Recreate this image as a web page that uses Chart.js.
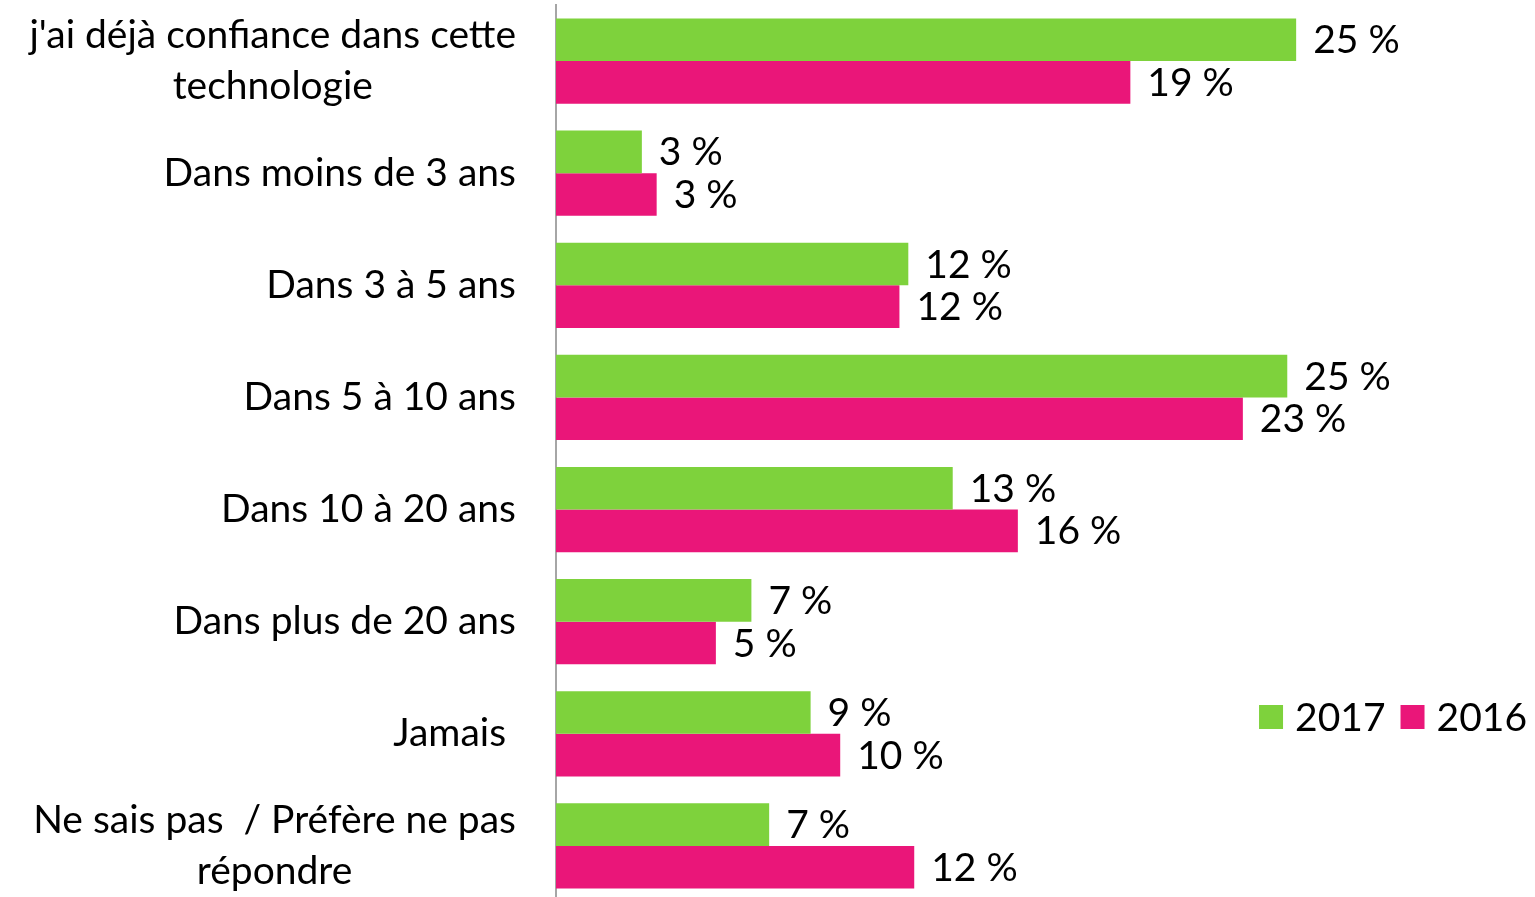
<!DOCTYPE html>
<html>
<head>
<meta charset="utf-8">
<title>Confiance dans cette technologie</title>
<script src="https://cdn.jsdelivr.net/npm/chart.js@4.4.1/dist/chart.umd.min.js"></script>
<style>
  html, body { margin: 0; padding: 0; background: #fff; overflow: hidden; }
  #wrap { position: relative; width: 1535px; height: 902px; }
</style>
</head>
<body>
<div id="wrap"><canvas id="chart-bar" width="1535" height="902"></canvas></div>
<script>
/* =====================
  Data
===================== */
var categories = [
  ["j'ai déjà confiance dans cette", "technologie"],
  "Dans moins de 3 ans",
  "Dans 3 à 5 ans",
  "Dans 5 à 10 ans",
  "Dans 10 à 20 ans",
  "Dans plus de 20 ans",
  "Jamais ",
  ["Ne sais pas  / Préfère ne pas", "répondre"]
];
var seriesNames = ['2017', '2016'];
var values2017 = [25.0, 2.9, 11.9, 24.7, 13.4, 6.6, 8.6, 7.2];
var values2016 = [19.4, 3.4, 11.6, 23.2, 15.6, 5.4, 9.6, 12.1];
var colors = ['#7ed23c', '#ea1679'];

var fontFamily = 'Lato, "Open Sans", sans-serif';
var fontSize = 39;
var font = fontSize + 'px ' + fontFamily;

// y labels (right-aligned block, lines centred), value labels and legend
var textPlugin = {
  id: 'textPlugin',
  afterDraw: function(chart) {
    var ctx = chart.ctx;
    var yScale = chart.scales.y;
    var area = chart.chartArea;
    ctx.save();
    ctx.font = font;
    ctx.fillStyle = '#000';
    ctx.textBaseline = 'middle';

    // category labels
    var rightEdge = area.left - 40;
    var lineHeight = 51;
    categories.forEach(function(cat, i) {
      var lines = Array.isArray(cat) ? cat : [cat];
      var widest = 0;
      lines.forEach(function(l) { widest = Math.max(widest, ctx.measureText(l).width); });
      var cx = rightEdge - widest / 2;
      var y0 = yScale.getPixelForTick(i) - (lines.length - 1) * lineHeight / 2;
      ctx.textAlign = 'center';
      lines.forEach(function(l, k) {
        ctx.fillText(l, cx, y0 + k * lineHeight);
      });
    });

    // value labels
    ctx.textAlign = 'left';
    chart.data.datasets.forEach(function(ds, d) {
      var meta = chart.getDatasetMeta(d);
      meta.data.forEach(function(bar, i) {
        ctx.fillText(Math.round(ds.data[i]) + ' %', bar.x + 17, bar.y + 1);
      });
    });

    // legend
    var box = 24, gapText = 12, gapItem = 15;
    var total = 0;
    seriesNames.forEach(function(n, k) {
      total += box + gapText + ctx.measureText(n).width + (k ? 0 : gapItem);
    });
    var x = 1527 - total;
    var ly = 717;
    seriesNames.forEach(function(n, k) {
      ctx.fillStyle = colors[k];
      ctx.fillRect(x, ly - box / 2, box, box);
      x += box + gapText;
      ctx.fillStyle = '#000';
      ctx.fillText(n, x, ly + 1);
      x += ctx.measureText(n).width + gapItem;
    });
    ctx.restore();
  }
};

var ctx1 = document.getElementById('chart-bar').getContext('2d');
var bar_chart = new Chart(ctx1, {
  type: 'bar',
  data: {
    labels: categories,
    datasets: [{
      label: seriesNames[0],
      data: values2017,
      backgroundColor: colors[0],
      barPercentage: 1,
      categoryPercentage: 0.76
    }, {
      label: seriesNames[1],
      data: values2016,
      backgroundColor: colors[1],
      barPercentage: 1,
      categoryPercentage: 0.76
    }]
  },
  options: {
    indexAxis: 'y',
    responsive: false,
    devicePixelRatio: 1,
    animation: false,
    layout: { padding: { top: 5, right: 2, left: 0, bottom: 0 } },
    plugins: {
      legend: { display: false },
      tooltip: { enabled: false }
    },
    scales: {
      x: { display: false, min: 0, max: 33 },
      y: {
        grid: { display: false },
        border: { display: true, color: '#a6a6a6', width: 2 },
        ticks: { display: false },
        afterFit: function(scale) { scale.width = 556; }
      }
    }
  },
  plugins: [textPlugin]
});
</script>
</body>
</html>
